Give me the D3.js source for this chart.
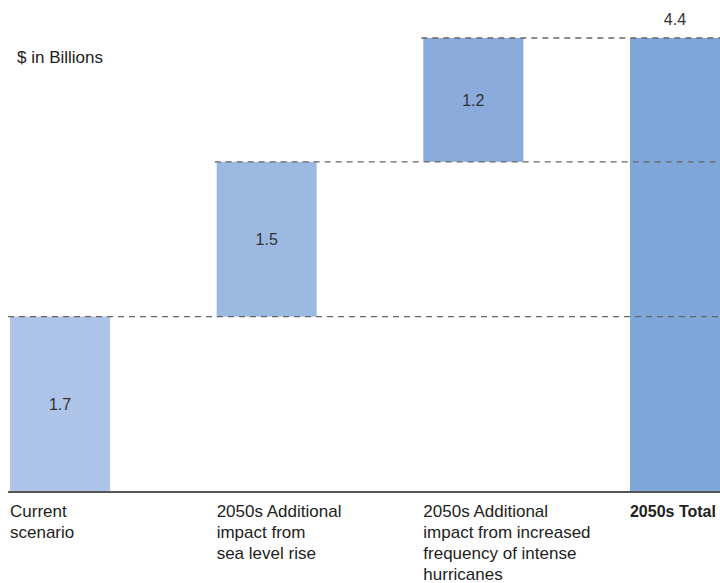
<!DOCTYPE html>
<html><head><meta charset="utf-8">
<script src="https://cdn.jsdelivr.net/npm/d3@7"></script>
<style>body{margin:0;background:#fff}svg{display:block}text{font-family:"Liberation Sans",Arial,sans-serif}</style>
</head><body><svg id="c" width="720" height="583"></svg>
<script>
const categories = ["Current scenario", "2050s Additional impact from sea level rise", "2050s Additional impact from increased frequency of intense hurricanes", "2050s Total"];
const labelLines = [["Current","scenario"],["2050s Additional","impact from","sea level rise"],["2050s Additional","impact from increased","frequency of intense","hurricanes"],["2050s Total"]];
const values = [1.7, 1.5, 1.2, 4.4];
const isTotal = [false, false, false, true];
const colors = ["#adc3e7", "#9cb9e2", "#8aabdc", "#7ea6d8"];
const unitLabel = "$ in Billions";

const svg = d3.select("#c");
const x = d3.scaleBand().domain(categories).range([10, 730]).paddingInner(0.516).paddingOuter(0);
const y = d3.scaleLinear().domain([0, 4.4]).range([492, 38]);

let cum = 0;
const bars = values.map((v, i) => {
  let y0, y1;
  if (isTotal[i]) { y0 = 0; y1 = v; }
  else { y0 = cum; y1 = cum + v; cum = y1; }
  return {cat: categories[i], v, y0, y1, i};
});

svg.selectAll("rect.bar").data(bars).enter().append("rect")
  .attr("x", d => x(d.cat)).attr("width", x.bandwidth())
  .attr("y", d => y(d.y1)).attr("height", d => y(d.y0) - y(d.y1))
  .attr("fill", (d) => colors[d.i]);

svg.selectAll("line.dash").data(bars.filter(d => !isTotal[d.i])).enter().append("line")
  .attr("x1", d => x(d.cat) - 2).attr("x2", 720)
  .attr("y1", d => y(d.y1)).attr("y2", d => y(d.y1))
  .attr("stroke", "#666").attr("stroke-width", 1.3).attr("stroke-dasharray", "6,5");

svg.append("line").attr("x1", 8).attr("x2", 720).attr("y1", y(0)).attr("y2", y(0))
  .attr("stroke", "#555").attr("stroke-width", 2);

svg.selectAll("text.val").data(bars).enter().append("text")
  .attr("x", d => x(d.cat) + x.bandwidth() / 2 - (isTotal[d.i] ? 5 : 0))
  .attr("y", d => isTotal[d.i] ? y(d.y1) - 13 : (y(d.y0) + y(d.y1)) / 2 + 6)
  .attr("text-anchor", "middle").attr("font-size", 16).attr("fill", "#333")
  .text(d => d.v.toFixed(1));

const lab = svg.selectAll("text.cat").data(bars).enter().append("text")
  .attr("x", d => x(d.cat)).attr("y", 517)
  .attr("font-size", d => isTotal[d.i] ? 16 : 17).attr("fill", "#222")
  .attr("font-weight", d => isTotal[d.i] ? "bold" : "normal");
lab.selectAll("tspan").data(d => labelLines[d.i].map(t => ({t, x: x(d.cat)}))).enter().append("tspan")
  .attr("x", d => d.x).attr("dy", (d, j) => j === 0 ? 0 : 21).text(d => d.t);

svg.append("text").attr("x", 17).attr("y", 63).attr("font-size", 17).attr("fill", "#222").text(unitLabel);
</script></body></html>
